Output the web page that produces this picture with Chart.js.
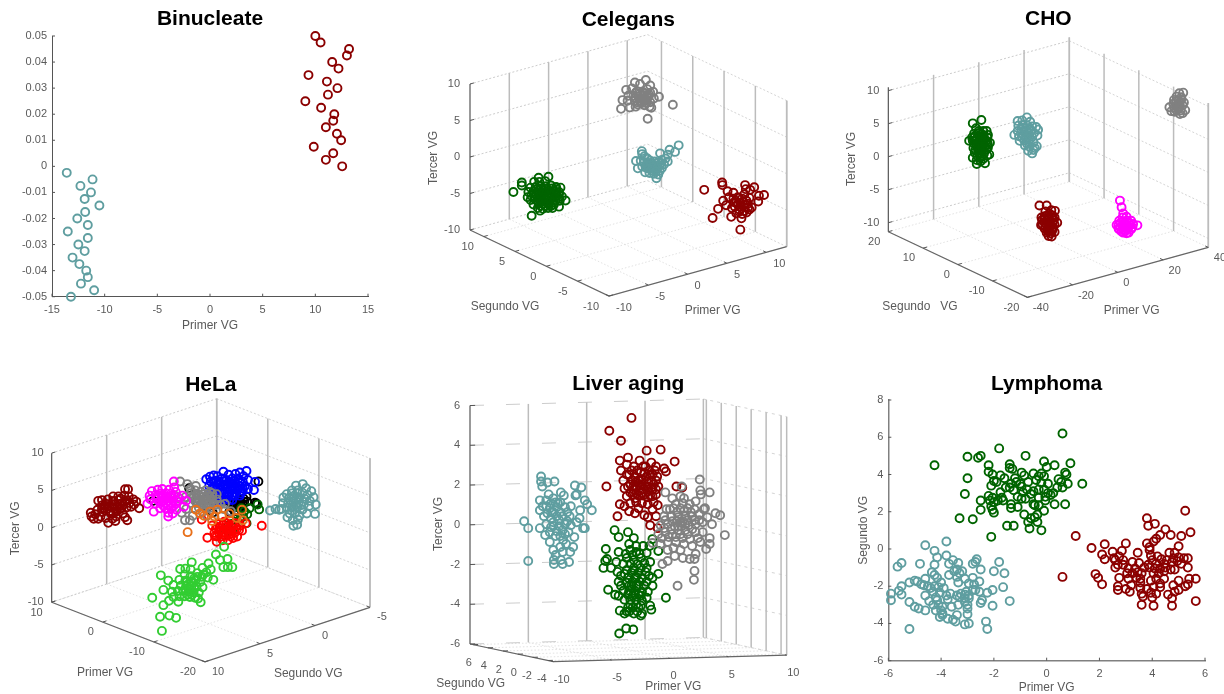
<!DOCTYPE html>
<html>
<head>
<meta charset="utf-8">
<title>Agrupamientos VG</title>
<script src="https://cdn.jsdelivr.net/npm/chart.js@4"></script>
<style>
html, body { margin: 0; padding: 0; background: #fff; }
#page { position: relative; width: 1224px; height: 694px; overflow: hidden; background: #fff; }
canvas { position: absolute; }
</style>
</head>
<body>
<div id="page"></div>
<script>
// colours of the clusters
const TEAL = '#5f9ea0', MAROON = '#8b0000', GRAY = '#808080', DGREEN = '#006400', MAGENTA = '#ff00ff';
const BLUE = '#0000ff', BLACK = '#000000', RED = '#ff0000', ORANGE = '#e8701a', LIME = '#32cd32';

// ---- Binucleate (Primer VG, Segundo VG)
const binTeal = [[-13.6,-0.0025],[-11.15,-0.005],[-12.3,-0.0075],[-11.3,-0.01],[-11.9,-0.0125],[-10.5,-0.015],[-11.85,-0.0175],[-12.6,-0.02],[-11.6,-0.0225],[-13.5,-0.025],[-11.6,-0.0275],[-12.5,-0.03],[-11.9,-0.0325],[-13.05,-0.035],[-12.4,-0.0375],[-11.75,-0.04],[-11.6,-0.0425],[-12.25,-0.045],[-11.0,-0.0475],[-13.2,-0.05]];
const binRed = [[10.0,0.05],[10.5,0.0475],[13.2,0.045],[13.0,0.0425],[11.6,0.04],[12.2,0.0375],[9.35,0.035],[11.1,0.0325],[12.1,0.03],[11.2,0.0275],[9.05,0.025],[10.55,0.0225],[11.8,0.02],[11.7,0.0175],[11.0,0.015],[12.05,0.0125],[12.45,0.01],[9.85,0.0075],[11.7,0.005],[11.0,0.0025],[12.55,0]];
const binXTicks = [-15,-10,-5,0,5,10,15];
const binYTicks = [-0.05,-0.04,-0.03,-0.02,-0.01,0,0.01,0.02,0.03,0.04,0.05];

// ---- Lymphoma (Primer VG, Segundo VG)
const lymGreen = [[0.6,6.2],[-1.8,5.4],[-0.8,5.0],[-3.0,4.95],[-2.6,4.9],[-2.5,5.0],[-4.25,4.5],[-0.1,4.7],[0.3,4.5],[0.9,4.6],[0,4.4],[-2.2,4.5],[-1.4,4.55],[-1.4,4.35],[-1.3,4.3],[-2.2,4.15],[-2.05,4.0],[-1.75,3.95],[-3.0,3.8],[-1.6,3.8],[-2,3.65],[-1.2,3.8],[-0.95,4.1],[-0.85,3.95],[-0.5,4.05],[-0.3,3.9],[-0.2,4.05],[-0.1,3.9],[0.7,4.1],[0.75,4.0],[0.45,3.75],[0.55,3.6],[0.8,3.5],[1.35,3.5],[0.6,3.3],[0.4,3.3],[0.05,3.5],[-0.2,3.55],[-0.4,3.7],[-0.7,3.6],[-1,3.5],[-1.15,3.6],[-1.35,3.5],[-1.4,3.3],[-1.25,3.15],[-1.55,3.3],[-2.1,3.4],[-1.9,3.6],[-0.95,3.35],[-0.75,3.2],[-0.5,3.1],[-0.3,3.2],[-0.1,3.2],[0.05,3.0],[0.25,3.0],[0.15,2.9],[-0.05,2.8],[-0.3,2.75],[-0.6,2.95],[-0.9,3.05],[-1.1,2.8],[-0.95,2.7],[-0.8,2.7],[-1.7,2.75],[-1.65,2.6],[-1.85,2.6],[-2.05,2.75],[-2.2,2.85],[-2.15,2.6],[-2,2.5],[-2.5,2.6],[-3.1,2.95],[-1.75,3.05],[-1.35,2.4],[-1.35,2.2],[-1.1,2.25],[-2.1,2.3],[-2.05,2.1],[-2,1.95],[-2.5,2.1],[0.7,2.4],[0.3,2.4],[-0.05,2.6],[-0.5,2.4],[-0.45,2.35],[-0.3,2.35],[-0.85,1.85],[-0.1,2.05],[-0.35,1.85],[-0.45,1.7],[-0.6,1.65],[-0.35,1.45],[-0.7,1.45],[-3.3,1.65],[-2.8,1.6],[-1.5,1.25],[-1.25,1.25],[-0.65,1.1],[-0.2,1.0],[-2.1,0.65]];
const lymTeal = [[-3.8,0.4],[-4.6,0.2],[-4.25,-0.1],[-3.8,-0.35],[-4.15,-0.45],[-3.55,-0.6],[-2.65,-0.55],[-2.7,-0.7],[-2.8,-0.8],[-1.8,-0.7],[-5.5,-0.75],[-5.65,-0.95],[-4.8,-0.8],[-4.25,-0.85],[-3.7,-0.8],[-3.35,-0.75],[-2.5,-1.1],[-2,-1.2],[-1.6,-1.3],[-3.4,-1.1],[-3.5,-1.2],[-3.3,-1.3],[-3.2,-1.2],[-3.7,-1.4],[-3.4,-1.5],[-4.35,-1.25],[-4.25,-1.4],[-4.15,-1.55],[-2.8,-1.55],[-3.1,-1.6],[-2.55,-1.75],[-3.35,-1.8],[-2.75,-1.9],[-2.95,-1.85],[-4.6,-1.6],[-4,-1.8],[-5.2,-1.8],[-5,-1.7],[-4.9,-1.75],[-4.75,-1.9],[-4.65,-1.95],[-5.5,-2.0],[-4.5,-2],[-4.4,-2.1],[-4.25,-2],[-4.1,-2.05],[-3.9,-2.1],[-1.65,-2.05],[-2.05,-2.2],[-2.25,-2.35],[-2.55,-2.3],[-2.8,-2.2],[-2.7,-2.2],[-5.6,-2.25],[-5.5,-2.45],[-5.9,-2.4],[-5.9,-2.75],[-4.6,-2.5],[-4.3,-2.3],[-4.05,-2.35],[-3.8,-2.5],[-3.65,-2.4],[-3.4,-2.5],[-3.25,-2.4],[-3.1,-2.45],[-3.05,-2.3],[-2.95,-2.5],[-3.3,-2.6],[-3.1,-2.65],[-2.95,-2.65],[-3.75,-2.7],[-4.2,-2.6],[-4.15,-2.75],[-4.45,-2.8],[-2.45,-2.75],[-2.5,-2.9],[-1.4,-2.8],[-5.2,-2.85],[-5,-3.1],[-4.85,-3.2],[-4.6,-3.3],[-4.3,-3],[-4.1,-3.0],[-3.95,-3.1],[-3.6,-3.1],[-3.35,-3],[-3.1,-2.85],[-3,-3.0],[-3,-3.2],[-2.05,-3.05],[-4.2,-3.3],[-4,-3.3],[-3.95,-3.45],[-3.95,-3.55],[-4.05,-3.65],[-3,-3.5],[-3.4,-3.55],[-3.75,-3.75],[-3.55,-3.8],[-3.45,-3.9],[-2.95,-4],[-3.1,-4.05],[-2.3,-3.9],[-2.25,-4.3],[-5.2,-4.3]];
const lymRed = [[5.25,2.05],[3.8,1.65],[4.1,1.35],[3.85,1.25],[4.5,1.05],[5.45,0.9],[4.3,0.75],[4.7,0.75],[5.1,0.7],[4.15,0.55],[1.1,0.7],[3.0,0.3],[2.2,0.25],[3.8,0.3],[4.05,0.4],[1.7,0.05],[5,0.15],[3.9,0.1],[2.85,-0.1],[3.9,-0.05],[2.5,-0.15],[3.45,-0.2],[2.1,-0.3],[4.65,-0.2],[4.85,-0.2],[3.95,-0.35],[4.2,-0.4],[2.75,-0.4],[2.2,-0.55],[2.55,-0.5],[2.6,-0.6],[2.9,-0.6],[4.0,-0.6],[4.35,-0.55],[4.55,-0.6],[4.8,-0.5],[5,-0.45],[5.2,-0.5],[5.35,-0.5],[3.25,-0.7],[3.5,-0.75],[2.7,-0.85],[2.9,-0.85],[3.85,-0.85],[4.15,-0.8],[4.45,-0.8],[4.75,-0.7],[4.95,-0.65],[5.1,-0.8],[2.6,-1],[5.35,-1],[3.1,-1.05],[3.35,-1.05],[3.7,-1],[3.9,-1],[4.1,-1.05],[4.3,-1.05],[4.5,-1],[4.7,-1.1],[4.85,-1.1],[3.05,-1.3],[3.25,-1.3],[3.45,-1.25],[3.6,-1.3],[4.05,-1.3],[4.25,-1.3],[4.45,-1.2],[1.85,-1.35],[3.1,-1.6],[3.4,-1.55],[3.55,-1.6],[1.95,-1.55],[0.6,-1.5],[2.75,-1.55],[4.45,-1.6],[3.95,-1.7],[4.15,-1.6],[5,-1.7],[5.4,-1.6],[5.65,-1.6],[3.55,-1.8],[4.3,-1.85],[2.1,-1.9],[3.2,-1.95],[4.8,-1.95],[5.35,-1.9],[5.25,-2],[2.7,-2],[2.7,-2.2],[3,-2.15],[3.55,-2.1],[3.8,-2.15],[4.05,-2.05],[4.3,-2.05],[5,-2.2],[3.15,-2.3],[3.6,-2.4],[3.95,-2.35],[4.15,-2.4],[4.6,-2.45],[4.85,-2.3],[3.65,-2.55],[4.0,-2.6],[4.75,-2.65],[5.65,-2.8],[3.6,-3],[4.05,-3.05],[4.75,-3.05]];
const lymXTicks = [-6,-4,-2,0,2,4,6];
const lymYTicks = [-6,-4,-2,0,2,4,6,8];

// ---- 3D panels: the values are read off the picture as they appear in the view,
// [horizontal position in the view, height in the view], vertical in Tercer VG units.
const celGray = [[-1,6.6],[2.65,5.25],[6.1,7.15],[4.2,8.25],[-0.8,7.8],[2.4,10.55],[0.9,10.2],[-0.3,9.2],[0.2,6.8],[1,6.9],[3.15,6.75],[3.4,8.95],[1.6,10],[3,9.8],[2.6,9.3],[0.5,9.4],[1.2,9],[2,8.9],[3,8.8],[0,8.4],[0.7,8.4],[1.4,8.3],[2.1,8.4],[2.8,8.3],[3.5,8],[-0.1,7.7],[0.9,7.7],[1.6,7.7],[2.3,7.8],[3,7.5],[1.3,7.2],[2.2,7.1],[2.9,6.9],[1.8,8.1],[1.9,7.4],[1,8.8],[1.6,8.7],[2.2,8.7],[2.8,8.6],[0.9,8.1],[1.5,8],[2.1,8],[2.6,8.1],[1.2,7.5],[1.7,7.5],[2.5,7.4]];
const celTeal = [[6.9,1.6],[6.4,0.7],[5.65,1],[4.35,0.5],[1.85,0.8],[1.05,-0.55],[1.3,-1.55],[3.85,-2.9],[1.9,0.4],[2.2,0.1],[2.6,-0.2],[3,-0.5],[5.4,0.3],[5.1,-0.2],[5.4,-0.6],[4.6,-0.4],[4.9,-1],[4.1,-0.7],[3.6,-0.6],[1.7,-0.5],[2.2,-0.7],[2.8,-1],[3.4,-1.1],[4,-1.2],[4.6,-1.5],[1.9,-1.3],[2.5,-1.5],[3.1,-1.6],[3.7,-1.7],[4.3,-1.9],[2.3,-2.1],[2.9,-2.2],[3.5,-2.3],[4.1,-2.4],[3.1,-1.2],[3.6,-1.2],[2.6,-0.8],[2.5,-1.1],[3,-0.8],[3.3,-1.4],[3.9,-0.9],[4.3,-1.2],[2.8,-1.6],[3.4,-1.9],[4,-1.5],[4.5,-0.8],[3.8,-2]];
const celGreen = [[-15.75,-4.8],[-14.6,-3.5],[-14.6,-3.9],[-13.25,-8.05],[-10.95,-2.7],[-12.3,-2.85],[-8.6,-5.95],[-9.5,-6.8],[-12.1,-7.35],[-13.8,-5.5],[-12.9,-3.4],[-12.2,-3.4],[-11.4,-3.3],[-13.4,-4.2],[-12.7,-4.1],[-12,-4],[-11.3,-4],[-10.6,-3.9],[-9.9,-4.1],[-9.3,-4.2],[-13.7,-4.8],[-13,-4.7],[-12.3,-4.6],[-11.6,-4.6],[-10.9,-4.6],[-10.2,-4.7],[-9.5,-4.8],[-13.3,-5.3],[-12.6,-5.2],[-11.9,-5.2],[-11.2,-5.2],[-10.5,-5.3],[-9.8,-5.3],[-9.1,-5.4],[-13.4,-5.9],[-12.8,-5.8],[-12.1,-5.8],[-11.4,-5.8],[-10.7,-5.9],[-10,-5.9],[-9.4,-6],[-13,-6.5],[-12.3,-6.4],[-11.6,-6.4],[-10.9,-6.5],[-10.2,-6.5],[-12.4,-7],[-11.7,-7.1],[-11,-7],[-10.4,-7],[-12.6,-4.4],[-11.9,-4.3],[-11.2,-4.3],[-10.5,-4.3],[-9.9,-4.4],[-13,-5],[-12.3,-4.9],[-11.6,-4.9],[-10.9,-4.9],[-10.2,-5],[-9.5,-5.1],[-12.9,-5.5],[-12.2,-5.5],[-11.5,-5.5],[-10.8,-5.6],[-10.1,-5.6],[-9.5,-5.7],[-12.4,-6.1],[-11.7,-6.1],[-11,-6.2],[-10.3,-6.2],[-12,-6.7],[-11.3,-6.7],[-10.6,-6.7]];
const celRed = [[10.4,-4.5],[12.85,-3.5],[12.9,-3.85],[18.6,-5.2],[17.25,-4.15],[16,-3.85],[16.7,-4.5],[11.55,-8.35],[15.35,-9.95],[14.1,-8.2],[12.3,-7.1],[17.8,-6.1],[17.9,-5.3],[13,-6],[13.8,-5.5],[14.4,-4.9],[13.6,-4.7],[14.5,-6.2],[15.2,-5.6],[15.9,-5.1],[16.6,-5.6],[13.4,-6.6],[14.2,-7],[15,-6.5],[15.7,-6.1],[16.4,-6.4],[15.2,-7.2],[15.9,-6.9],[16.6,-7.2],[15.6,-7.8],[16.2,-7.6],[15.5,-8.4],[14.8,-7.7],[16.9,-6.9],[16.1,-4.4],[14.4,-5.7],[15,-5.5],[15.6,-5.7],[16.2,-6],[14.8,-6.2],[15.4,-6.3],[16,-6.5],[14.6,-6.8],[15.3,-6.8],[15.9,-7.4],[15.2,-7.5],[16.4,-6.9]];

const choGreen = [[-9.9,5.55],[-11.2,5.05],[-10.7,4.3],[-11.75,2.4],[-8.7,0.35],[-9.35,-1],[-10.6,-1.1],[-11.2,-0.15],[-9.6,3.9],[-9.1,3.9],[-11,3.5],[-10.3,3.6],[-9.6,3.2],[-8.9,3.3],[-11.3,2.9],[-10.6,2.8],[-9.9,2.6],[-9.2,2.5],[-11,2],[-10.3,2],[-9.6,1.9],[-8.9,1.8],[-8.6,2.1],[-11.1,1.3],[-10.5,1.3],[-9.8,1.2],[-9.1,1.1],[-10.9,0.6],[-10.2,0.6],[-9.5,0.5],[-9,0.2],[-10.1,-0.2],[-10,-0.7],[-9.6,-0.3],[-10.6,-0.5],[-11,2.9],[-10.9,3.1],[-10.2,3.1],[-9.6,2.9],[-9,2.9],[-10.8,2.4],[-10.2,2.4],[-9.6,2.4],[-9,2.2],[-10.6,1.7],[-10,1.6],[-9.4,1.6],[-8.9,1.4],[-10.8,1],[-10.1,0.9],[-9.5,0.9],[-10.5,0.1],[-9.9,0.2],[-10.3,3.9],[-9.8,3.4],[-11.2,2.4],[-10.4,1.3],[-9.7,1.2]];
const choTeal = [[-3,5.95],[-2.2,0.5],[-4.9,3.3],[-1.4,3.2],[-1.5,1.6],[-4.4,5.4],[-3.7,5.5],[-2.5,5.3],[-4.3,4.7],[-3.6,4.8],[-2.9,4.7],[-2.2,4.6],[-1.6,4.5],[-1.3,4.1],[-4.4,3.9],[-3.8,4.1],[-3.1,4],[-2.4,3.9],[-1.9,3.6],[-4.2,3.1],[-3.5,3.3],[-2.8,3.2],[-2.2,3],[-4.1,2.4],[-3.4,2.5],[-2.7,2.3],[-2,2.2],[-3.3,1.7],[-2.6,1.5],[-1.8,1.3],[-2.8,0.9],[-2,1],[-3.4,3.7],[-2.8,3.6],[-3.7,2.9],[-3.1,2.8],[-2.5,2.7],[-3.6,4.4],[-2.6,4.3],[-3,2]];
const choGray = [[20.7,9.7],[20.1,9.6],[18.6,7.5],[21,7.05],[20.2,6.45],[19.7,9.1],[20.4,9],[19.3,8.6],[20,8.5],[20.8,8.2],[19.2,8],[19.9,7.9],[20.6,7.8],[19.3,7.4],[20,7.3],[19.4,6.8],[20.6,6.6],[18.9,6.9],[19.6,8.4],[20.2,8.2],[19.6,7.7],[20.2,7.6],[19.7,7],[20.3,7],[20.4,8.7]];
const choRed = [[-1.1,-7.4],[0,-7.4],[1.25,-8.2],[0.75,-12.1],[-0.85,-10.35],[0.7,-8.1],[-0.2,-8.3],[0.4,-8.6],[-0.3,-9],[0.3,-9.2],[0.9,-8.9],[-0.7,-9.6],[-0.1,-9.7],[0.5,-9.8],[1.1,-9.6],[-0.6,-10.3],[0,-10.3],[0.6,-10.4],[1.2,-10.3],[-0.3,-10.9],[0.3,-11],[0.9,-11],[0,-11.5],[0.6,-11.6],[1.2,-11.4],[0.3,-12],[-0.4,-9.4],[0.2,-9.5],[0.8,-9.3],[-0.3,-10],[0.3,-10],[0.9,-9.9],[-0.2,-10.6],[0.4,-10.7],[1,-10.7],[0.2,-11.3],[0.8,-11.3],[0.1,-8.9],[1.2,-9.2],[-0.8,-9.2],[1.6,-10]];
const choMagenta = [[11.1,-6.65],[11.35,-7.65],[11.6,-8.6],[13.75,-10.4],[10.6,-10.35],[12.1,-11.6],[11.5,-9.2],[12.1,-9.1],[11,-9.7],[11.6,-9.8],[12.2,-9.7],[12.8,-9.7],[10.9,-10.4],[11.5,-10.4],[12.1,-10.4],[12.7,-10.4],[13.1,-10.2],[11,-11],[11.6,-11],[12.2,-11],[12.8,-11],[11.6,-11.5],[12.4,-11.5],[11.2,-10],[11.9,-10],[12.5,-10],[11.2,-10.7],[11.8,-10.7],[12.4,-10.7],[11.9,-11.3],[11.3,-11.3],[13,-10.7],[10.9,-10.9]];

const helMaroon = [[-15.9,1.5],[-9.5,2.6],[-11.4,5.15],[-11,5.15],[-13.65,0.65],[-16,2],[-15.4,1.8],[-15.6,1.2],[-15,1.2],[-15.1,2.4],[-14.4,2.1],[-14.7,1.5],[-14,1.3],[-15,3.6],[-14.5,3.7],[-14.5,3],[-13.9,3.2],[-13.8,2.5],[-13.2,2.8],[-13.3,1.9],[-13.1,1.2],[-12.6,1.5],[-13.7,3.8],[-13,4.2],[-12.9,3.5],[-12.3,3.7],[-12.4,2.9],[-12.5,2.2],[-11.9,2.6],[-11.7,1.9],[-11.4,1.4],[-11.1,1],[-12,3.9],[-11.4,3.5],[-11.5,4.3],[-10.9,4.2],[-10.8,3.3],[-10.3,3.8],[-10.2,3.1],[-10.6,2.8],[-9.9,3.5],[-14.2,2.6],[-12.7,0.9],[-14.5,2.5],[-13.5,2.9],[-13.5,2.2],[-12.8,3.1],[-12.8,2.5],[-12.1,3.2],[-12.1,2.5],[-13,1.9],[-13,3.6],[-12.3,4.2],[-11.6,3.1],[-11.2,2.7],[-14,2.9],[-11.1,3.7]];
const helMagenta = [[-7.55,2.15],[-5.6,1.5],[-4.85,6.2],[-8.4,3.2],[-5,1.9],[-7.8,4.9],[-7,5.1],[-6.4,5.2],[-5.5,5.1],[-4.8,5.4],[-8.1,4.3],[-7.3,4.4],[-6.6,4.6],[-5.9,4.6],[-5.2,4.6],[-4.6,4.8],[-8,3.8],[-7.1,3.8],[-6.4,4],[-5.7,3.9],[-5,4],[-4.3,4.1],[-3.7,4.3],[-7.3,3.2],[-6.6,3.3],[-5.9,3.3],[-5.2,3.3],[-4.6,3.2],[-6.7,2.6],[-6,2.6],[-5.2,2.6],[-4.5,2.4],[-3.5,2.8],[-3.2,3.6],[-5.6,2],[-7,4.1],[-6.4,4.4],[-5.8,4.2],[-5.2,4.3],[-6.8,3.5],[-6.2,3.6],[-5.6,3.6],[-5,3.6],[-4.4,3.6],[-6.3,3],[-5.6,3],[-4.9,2.9]];
const helGray = [[-3.35,1],[-2.7,1],[-4,6.2],[-3.05,5.85],[-4.7,4.3],[-4.1,3.9],[-2.3,1.6],[-3.2,2.5],[-2.6,5.2],[-2,5],[-1.9,5.6],[-2.6,4.6],[-1.8,4.4],[-1.2,4.8],[-0.6,5],[0,4.8],[-3.3,4.1],[-2.4,3.9],[-1.6,3.9],[-1,4.1],[-0.4,4.2],[0.3,4.2],[0.9,4.5],[-2.6,3.3],[-1.8,3.3],[-1.1,3.4],[-0.5,3.6],[0.2,3.5],[0.9,3.8],[-1.5,2.7],[-0.8,2.8],[-0.1,3],[0.6,3],[1.4,3.1],[2,3.2],[2.8,2.2],[1.8,2.5],[-1,2.1],[-0.4,1.6],[-3.8,2],[-1.5,4.4],[-0.9,4.5],[-0.3,4.5],[0.3,4.6],[-2,3.6],[-1.4,3.6],[-0.8,3.7],[-0.2,3.8],[0.5,3.3],[-1.2,3.1],[-0.5,3.2],[0.1,2.7],[-2.2,4.2]];
const helOrange = [[-3,-0.6],[-1.35,1.9],[0,2.15],[1,2.4],[-0.8,1.6],[-1.9,2.4],[0.6,1.5],[1.6,1.6],[2.6,1.9],[4.3,2.4],[3.6,1.3],[4.4,1],[0.3,0.9]];
const helRed = [[6.95,0.25],[-0.35,-1.35],[3.65,-1.2],[-1.1,1.1],[0.9,-1.9],[0.3,0.3],[4.8,0.6],[1.2,0.5],[1.9,0.8],[2.6,1],[3.4,0.6],[4.1,0.3],[0.8,-0.1],[1.5,-0.1],[2.2,0.1],[2.9,0],[3.6,-0.2],[4.3,-0.4],[0.6,-0.7],[1.2,-0.7],[1.9,-0.6],[2.6,-0.6],[3.3,-0.7],[0.9,-1.2],[1.5,-1.2],[2.1,-1.1],[2.8,-1.2],[1.7,-1.7],[2.4,-1.7],[3.1,-1.4],[1,0.1],[1.7,0.4],[1.3,-0.4],[1.6,-0.9],[2.3,-0.2],[2.6,-0.9],[3,0.4],[3.2,-0.4],[3.9,-0.3],[0.7,-1.1],[2.2,0.6]];
const helBlue = [[4.9,7.6],[0,6.85],[1.8,7.5],[6.05,6.15],[5.9,5.05],[0.65,3.6],[-0.2,4.6],[-0.5,6.5],[0.5,7],[1,6.9],[2.5,7.1],[3.4,7.2],[4,7.4],[4.5,6.9],[5.1,6.4],[0.1,6.2],[0.8,6.3],[1.6,6.6],[2.2,6.4],[3,6.6],[3.8,6.6],[4.4,6.2],[-0.1,5.6],[0.6,5.6],[1.3,5.8],[2,5.8],[2.7,5.9],[3.4,5.9],[4,5.6],[4.7,5.6],[5.1,5.2],[0.1,4.9],[0.9,5],[1.6,5.1],[2.3,5.2],[3,5.1],[3.7,5],[4.4,4.9],[0.4,4.2],[1.2,4.3],[1.9,4.5],[2.6,4.5],[3.3,4.3],[4,4.3],[1.4,3.7],[2.2,3.8],[3,3.7],[0.5,6.2],[1.2,6.2],[1.9,6.2],[2.6,6.2],[3.3,6.3],[4,6.1],[0.3,5.3],[1,5.4],[1.7,5.5],[2.4,5.5],[3.1,5.5],[3.8,5.3],[4.4,5.3],[0.6,4.6],[1.3,4.7],[2,4.8],[2.7,4.9],[3.4,4.7],[4.1,4.6],[1.6,4.1],[2.3,4.2],[3,4.3],[2.6,3.7]];
const helGreen = [[6.6,2.45],[6.4,3.1],[2.45,0.25],[1.9,-1],[4.45,1.5],[4.9,0.6],[3.5,0.1],[2.9,0.5],[4,1.1],[4.6,2.2],[3.6,1.8],[5.3,2.6],[4.2,2.6],[5,1.8],[2.4,-0.4]];
const helBlack = [[6.5,6.2],[-2.8,5.3],[-7.6,3.6],[-1.8,3.5],[-0.35,2.8],[0.35,2],[6.05,3.35],[6.25,3.25],[4.9,4.15],[2,3.6],[3,2.6],[3.4,3.2],[3.9,3.7],[4.4,3.1],[3.5,2.3],[4,2.6],[2.9,3.1],[5,3.5],[4.5,3.9],[2.6,2.1],[3.8,3.1],[3.1,3.3],[3.6,3.5],[4.1,3.3],[4.6,3.5],[3.2,2.8],[3.7,2.8],[4.2,2.9],[3.3,2.2]];
const helTeal = [[14.1,1.85],[8.05,2.3],[8.8,2.5],[9.3,2.4],[11.2,0.25],[11.7,0.4],[12.45,5.85],[11.55,5.65],[9.85,4.05],[12.9,5.3],[13.6,4.9],[13.9,4.1],[14.2,3.1],[11,5],[11.8,5],[12.4,4.7],[13.1,4.4],[10.3,4.5],[10.6,4],[11.3,4.3],[12,4.1],[12.7,3.9],[13.4,3.6],[9.8,3.3],[10.5,3.3],[11.2,3.5],[11.9,3.4],[12.6,3.1],[13.3,2.9],[9.6,2.5],[10.3,2.7],[11,2.7],[11.7,2.7],[12.4,2.4],[13,1.9],[10.7,1.9],[11.4,1.9],[12,1.6],[11.1,1],[11.8,1.1],[10.4,1.4],[11,4.6],[11.7,4.6],[11.2,3.9],[11.9,3.8],[12.5,3.5],[10.8,3.1],[11.5,3.1],[12.2,3],[11,2.3]];
const helLime = [[1.9,-2.55],[0.8,-3.6],[1.35,-4.35],[2.35,-4.2],[3,-5.3],[1.8,-5.3],[2.4,-5.3],[-6.6,-6.4],[-5.6,-7.1],[-6.25,-8.35],[-7.75,-9.4],[-6.25,-10.4],[-6.7,-11.95],[-5.45,-11.8],[-4.55,-12.1],[-6.45,-13.85],[-4.25,-9.95],[-1.25,-10],[-2.45,-4.65],[-4,-5.55],[0.45,-7],[-0.2,-4.8],[0.1,-5.6],[-3.3,-5.5],[-2.6,-5.6],[-1,-5.4],[-0.5,-6],[-1.7,-6.1],[-3.4,-6.3],[-2.6,-6.5],[-1.1,-6.6],[-0.3,-6.7],[-4.1,-7],[-3.3,-7.1],[-2.6,-7.2],[-1.9,-7],[-1.3,-7.3],[-4.9,-7.7],[-3.9,-7.8],[-3.2,-7.8],[-2.5,-7.9],[-1.8,-7.9],[-1,-8],[-5.1,-8.6],[-4.3,-8.5],[-3.6,-8.5],[-2.9,-8.6],[-2.2,-8.7],[-1.5,-8.7],[-4.9,-9.3],[-4.1,-9.2],[-3.4,-9.2],[-2.7,-9.3],[-2,-9.4],[-5.5,-9.8],[-1.6,-9.5],[-3.2,-7.3],[-2.9,-7.6],[-2.2,-7.4],[-2.8,-8.2],[-2.1,-8.2],[-3.3,-8.3],[-3,-9],[-2.4,-9],[-1.7,-6.6],[-0.9,-6.3],[-2.1,-6.8]];

const livTeal = [[-11.05,2.4],[-11.05,2.15],[-10.95,1.9],[-9.9,2.15],[-10.5,2.1],[-8.15,1.95],[-7.6,1.85],[-8,1.5],[-8.1,1.45],[-7.3,1.2],[-7.1,1],[-6.7,0.7],[-7.7,0.7],[-12.5,0.15],[-12.15,-0.2],[-12.15,-1.85],[-11.15,1.2],[-10.4,1.5],[-9.35,1.6],[-9.1,1.45],[-11.15,0.7],[-7.75,0.3],[-7.3,-0.2],[-7.45,-0.2],[-11.15,-0.2],[-10.7,-0.55],[-10.3,-0.9],[-8.2,-0.65],[-9.15,-0.8],[-8.3,-1.15],[-9.4,-1.15],[-8.55,-1.4],[-9.8,-1.55],[-9.95,-1.8],[-9.95,-2],[-9.2,-2],[-8.65,-1.9],[-9.35,-1.8],[-10.6,1.2],[-10,1.3],[-9.4,1.1],[-10.9,0.9],[-10.3,0.8],[-9.7,0.85],[-9,0.85],[-8.5,0.9],[-10.8,0.4],[-10.2,0.3],[-9.7,0.4],[-9.2,0.4],[-8.6,0.4],[-8,0.1],[-10.6,0],[-10,-0.1],[-9.5,-0.1],[-9,0],[-8.5,-0.05],[-10.3,-0.4],[-9.7,-0.35],[-9.2,-0.3],[-8.7,-0.4],[-10.1,0.6],[-9.4,0.6],[-9.8,1.1],[-8.9,-1],[-10,-1.3],[-9.2,-1.4],[-10.5,0.55],[-10,0.6],[-9.5,0.2],[-10,0.1],[-9.8,-0.6],[-10.2,-0.15],[-9.4,-0.6],[-9.6,1.05],[-10.2,1.05],[-8.8,0.15],[-8.8,0.6],[-9,-0.5],[-10.6,0.9]];
const livGray = [[2.55,2.25],[2.6,1.7],[2.65,1.5],[3.4,1.6],[-0.4,1.6],[1,1.9],[0.9,1.4],[1.2,1.3],[0.2,1.3],[2.2,1.15],[3,0.8],[2.9,0.75],[3.9,0.55],[4.3,0.45],[3.2,0.35],[3.6,0],[4.7,-0.55],[3.4,-0.7],[3.4,-1],[3.1,-1.25],[2.2,-1.5],[2.1,-1.75],[2.1,-2.35],[2.05,-2.8],[0.65,-3.1],[-0.65,-2],[-0.2,-1.85],[0.4,-1.6],[1.1,-1.7],[1.7,-1.75],[-1.5,-0.95],[-0.8,-1],[-0.2,-0.9],[0.5,-0.9],[1.2,-1],[1.9,-1.1],[2.6,-0.9],[-1,-0.5],[-0.4,-0.4],[0.2,-0.5],[0.9,-0.5],[1.5,-0.5],[2.2,-0.4],[2.8,-0.4],[-0.8,-0.05],[-0.2,0],[0.4,-0.1],[1,-0.1],[1.6,-0.05],[2.2,0],[2.8,0.1],[-0.5,0.4],[0.1,0.4],[0.7,0.35],[1.3,0.4],[1.9,0.4],[2.5,0.5],[-0.3,0.75],[0.3,0.8],[0.9,0.8],[1.5,0.8],[2.1,0.75],[0.5,1],[1.1,1.05],[1.7,1],[0.6,0.15],[1.1,0.15],[1.3,-0.3],[0.7,-0.3],[0,0.75],[0.6,0.6],[1.2,0.65],[1.8,0.6],[-0.4,0.2],[0.2,0.15],[0.9,0.1],[1.5,0.2],[2.1,0.2],[-0.5,-0.2],[0.1,-0.25],[0.7,-0.1],[1.3,0],[1.9,-0.25],[-0.7,-0.7],[-0.1,-0.65],[0.5,-0.65],[1.1,-0.7],[1.7,-0.75],[0.3,-1.2],[0.9,-1.3],[-0.2,-1.3],[2.4,-0.7],[2.5,0.2]];
const livRed = [[-3.3,5.35],[-5.2,4.7],[-4.2,4.2],[-2,3.7],[-0.8,3.75],[0.4,3.15],[-3.6,3.35],[-4.3,3.2],[-5.45,1.9],[-4.5,0.4],[-1.05,-0.2],[-1.7,-0.05],[0.55,1.9],[1.05,1.85],[-0.5,2.8],[-0.35,2.65],[-4.3,1],[-3.9,0.9],[-3.5,0.65],[-3,0.55],[-2.7,0.8],[-2.2,0.45],[-1.9,0.35],[-1.5,0.75],[-1.2,0.4],[-1.05,0.95],[-4.2,2.7],[-3.7,3],[-3.1,2.9],[-2.6,3.2],[-2.1,2.9],[-1.6,3.1],[-1.2,2.9],[-4,2.2],[-3.5,2.5],[-3,2.4],[-2.5,2.6],[-2,2.4],[-1.5,2.5],[-1.1,2.4],[-3.9,1.8],[-3.4,2],[-2.9,1.9],[-2.4,2],[-1.9,1.9],[-1.4,2],[-1,1.9],[-3.7,1.4],[-3.2,1.5],[-2.7,1.45],[-2.2,1.5],[-1.7,1.45],[-1.2,1.5],[-3.4,1.05],[-2.9,1.1],[-2.4,1.05],[-1.9,1],[-1.4,1.1],[-2.4,2.25],[-2,2.15],[-1.6,2.2],[-2.7,2.2],[-2.3,1.75],[-1.9,1.65],[-3.1,1.75],[-1.5,1.75],[-2.6,1.7],[-3.3,2.7],[-2.8,2.7],[-2.3,2.9],[-1.8,2.7],[-1.3,2.7],[-3.7,2.5],[-3.2,2.2],[-2.9,2.15],[-2.2,2.6],[-1.7,2.5],[-1.2,2.2],[-3.6,1.9],[-3.1,1.95],[-2.6,1.95],[-2.1,1.9],[-1.6,1.85],[-1.2,1.75],[-3.4,1.6],[-2.9,1.55],[-2.4,1.55],[-1.9,1.35],[-1.5,1.4],[-3,1.3]];
const livGreen = [[-4.75,-0.3],[-3.6,-0.4],[-4.4,-0.65],[-3.1,-0.7],[-1.5,-0.75],[-1.75,-1.1],[-1,-1.35],[-5.5,-1.25],[-5.05,-2.2],[-5.55,-1.85],[-5.7,-2.2],[-5.4,-1.75],[-1,-2.5],[-1.5,-2.7],[-0.35,-3.7],[-5.3,-3.3],[-4.7,-3.55],[-4.4,-3.6],[-1.7,-4.1],[-1.6,-4.3],[-4.3,-4.35],[-3.9,-4.5],[-2.5,-4.6],[-4.35,-5.5],[-3.75,-5.25],[-3.15,-5.3],[-3.5,-1],[-2.9,-1.1],[-2.3,-1.1],[-4.4,-1.4],[-3.8,-1.5],[-3.2,-1.55],[-2.6,-1.5],[-2,-1.45],[-4.6,-1.9],[-4,-2],[-3.4,-2],[-2.8,-2],[-2.2,-1.95],[-1.7,-1.9],[-4.5,-2.4],[-3.9,-2.5],[-3.3,-2.45],[-2.7,-2.45],[-2.1,-2.4],[-4.4,-2.9],[-3.7,-2.95],[-3.2,-2.9],[-2.6,-2.9],[-2,-2.9],[-1.5,-3.1],[-4,-3.35],[-3.5,-3.35],[-3,-3.35],[-2.4,-3.4],[-1.9,-3.4],[-3.9,-3.8],[-3.4,-3.8],[-2.9,-3.8],[-2.4,-3.85],[-3.6,-4.2],[-3.2,-4.2],[-2.7,-4.2],[-3.1,-4.5],[-2.9,-2.65],[-3.1,-2.2],[-2.9,-3.1],[-3.3,-3.1],[-2.7,-3.55],[-3.2,-3.6],[-3.7,-1.7],[-3.1,-1.8],[-2.5,-1.7],[-3.7,-2.3],[-3.1,-2.3],[-2.5,-2.2],[-2,-2.2],[-3.6,-2.7],[-3,-2.7],[-2.4,-2.7],[-1.8,-2.6],[-3.5,-3.1],[-2.7,-3.1],[-2.2,-3.1],[-3.6,-3.55],[-3,-3.55],[-2.5,-3.6],[-2,-3.7],[-3.4,-4.05],[-2.9,-4.05],[-2.5,-4.1],[-3.5,-4.4],[-2.8,-4.4],[-4.2,-2.6],[-4.2,-3.1],[-2.4,-4.5],[-3.7,-4.4],[-3.4,-1.3],[-2.9,-1.4]];

// tick labels of the 3D axes
const celSegTicks = [10,5,0,-5,-10], celPriTicks = [-10,-5,0,5,10], celTerTicks = [-10,-5,0,5,10];
const choSegTicks = [20,10,0,-10,-20], choPriTicks = [-40,-20,0,20,40], choTerTicks = [-10,-5,0,5,10];
const helPriTicks = [10,0,-10,-20], helSegTicks = [10,5,0,-5], helTerTicks = [-10,-5,0,5,10];
const livSegTicks = [6,4,2,0,-2,-4], livPriTicks = [-10,-5,0,5,10], livTerTicks = [-6,-4,-2,0,2,4,6];

Chart.defaults.font.family = '"Liberation Sans", Arial, sans-serif';
Chart.defaults.color = '#5a5a5a';

function scatterSet(points, colour) {
    return {
        data: points.map(p => ({ x: p[0], y: p[1] })),
        showLine: false,
        pointStyle: 'circle',
        pointRadius: 4,
        pointBorderWidth: 1.9,
        pointBackgroundColor: 'transparent',
        pointBorderColor: colour,
        clip: false
    };
}

function addCanvas(left, top, width, height) {
    const canvas = document.createElement('canvas');
    canvas.width = width;
    canvas.height = height;
    canvas.style.left = left + 'px';
    canvas.style.top = top + 'px';
    document.getElementById('page').appendChild(canvas);
    return canvas.getContext('2d');
}

function titleOptions(text, centreY, areaTop) {
    return {
        display: true,
        text: text,
        color: '#000',
        fullSize: false,
        font: { size: 21, weight: 'bold' },
        padding: { top: centreY - 12.6, bottom: areaTop - centreY - 12.6 }
    };
}

// short inner tick marks, the 2D axes have them on the inside
const innerTicks = {
    id: 'innerTicks',
    afterDatasetsDraw(chart) {
        const c = chart.ctx, x = chart.scales.x, y = chart.scales.y, a = chart.chartArea;
        c.save();
        c.strokeStyle = '#555';
        c.lineWidth = 1;
        c.beginPath();
        x.ticks.forEach(t => { const p = x.getPixelForValue(t.value); c.moveTo(p, a.bottom); c.lineTo(p, a.bottom - 3); });
        y.ticks.forEach(t => { const p = y.getPixelForValue(t.value); c.moveTo(a.left, p); c.lineTo(a.left + 3, p); });
        c.stroke();
        c.restore();
    }
};

function flatChart(o) {
    const area = o.area, canvasLeft = o.canvasLeft, canvasTop = o.top;
    const height = Math.ceil(area.bottom - canvasTop + o.bottomSpace);
    new Chart(addCanvas(canvasLeft, canvasTop, area.right + 14 - canvasLeft, height), {
        type: 'scatter',
        data: { datasets: o.sets.map(s => scatterSet(s[0], s[1])) },
        plugins: [innerTicks],
        options: {
            responsive: false,
            animation: false,
            events: [],
            layout: { autoPadding: false, padding: { left: 0, right: 14, top: 0, bottom: 0 } },
            plugins: { legend: { display: false }, tooltip: { enabled: false }, title: titleOptions(o.title, o.titleY - canvasTop, area.top - canvasTop) },
            scales: {
                x: {
                    type: 'linear', min: o.xTicks[0], max: o.xTicks[o.xTicks.length - 1],
                    afterFit: s => { s.height = height - (area.bottom - canvasTop); },
                    afterBuildTicks: s => { s.ticks = o.xTicks.map(v => ({ value: v })); },
                    grid: { display: false, drawTicks: false },
                    border: { color: o.axisColour, width: o.axisWidth },
                    ticks: { font: { size: 11 }, color: '#5a5a5a', padding: 7, autoSkip: false, maxRotation: 0, callback: v => String(v) },
                    title: { display: true, text: 'Primer VG', color: '#5a5a5a', font: { size: 12, lineHeight: 1 }, padding: { top: 0, bottom: o.xTitleGap } }
                },
                y: {
                    type: 'linear', min: o.yTicks[0], max: o.yTicks[o.yTicks.length - 1],
                    afterFit: s => { s.width = area.left - canvasLeft; },
                    afterBuildTicks: s => { s.ticks = o.yTicks.map(v => ({ value: v })); },
                    grid: { display: false, drawTicks: false },
                    border: { color: o.axisColour, width: o.axisWidth },
                    ticks: { font: { size: 11 }, color: '#5a5a5a', padding: 5, autoSkip: false, callback: v => String(v) },
                    title: { display: !!o.yTitle, text: o.yTitle, color: '#5a5a5a', font: { size: 12 }, padding: { top: 6, bottom: 0 } }
                }
            }
        }
    });
}

// position of (a, c, t) in view coordinates: the box is a parallel projection
function boxPoint(b, a, c, t) {
    const fa = (a - b.a0) / (b.a1 - b.a0);
    const fc = (c - b.c0) / (b.c1 - b.c0);
    const ft = (t - b.t0) / (b.t1 - b.t0);
    return {
        x: b.L[0] + fa * (b.B[0] - b.L[0]) + fc * (b.R[0] - b.B[0]),
        y: b.L[1] + fa * (b.B[1] - b.L[1]) + fc * (b.R[1] - b.B[1]) + ft * b.h
    };
}

function boxPlugin(o) {
    const b = o.box;
    return {
        id: 'box3d',
        beforeDatasetsDraw(chart) {
            const c = chart.ctx, sx = chart.scales.x, sy = chart.scales.y;
            const px = p => [sx.getPixelForValue(p.x), sy.getPixelForValue(p.y)];
            function path(pts, colour, width, dash) {
                c.beginPath();
                pts.forEach((p, i) => { const q = px(p); if (i) c.lineTo(q[0], q[1]); else c.moveTo(q[0], q[1]); });
                c.strokeStyle = colour;
                c.lineWidth = width;
                c.setLineDash(dash || []);
                c.stroke();
                c.setLineDash([]);
            }
            c.save();
            // floor
            o.cTicks.forEach(v => path([boxPoint(b, b.a0, v, b.t0), boxPoint(b, b.a1, v, b.t0)], '#dadada', 0.8, [1.5, 2]));
            o.aTicks.forEach(v => path([boxPoint(b, v, b.c0, b.t0), boxPoint(b, v, b.c1, b.t0)], '#dadada', 0.8, [1.5, 2]));
            // back walls
            o.tTicks.forEach(v => {
                path([boxPoint(b, b.a0, b.c0, v), boxPoint(b, b.a0, b.c1, v)], '#c6c6c6', 0.9, o.leftDash || [2, 2]);
                path([boxPoint(b, b.a0, b.c1, v), boxPoint(b, b.a1, b.c1, v)], '#cfcfcf', 0.9, o.rightDash || [2, 2]);
            });
            o.cTicks.filter(v => v !== b.c0).forEach(v => path([boxPoint(b, b.a0, v, b.t0), boxPoint(b, b.a0, v, b.t1)], '#bcbcbc', 1.5));
            o.aTicks.forEach(v => path([boxPoint(b, v, b.c1, b.t0), boxPoint(b, v, b.c1, b.t1)], '#bcbcbc', 1.5));
            path([boxPoint(b, b.a1, b.c1, b.t0), boxPoint(b, b.a1, b.c1, b.t1)], '#bcbcbc', 1.5);
            // axes
            path([boxPoint(b, b.a0, b.c0, b.t0), boxPoint(b, b.a0, b.c0, b.t1)], '#555', 1.2);
            path([boxPoint(b, b.a0, b.c0, b.t0), boxPoint(b, b.a1, b.c0, b.t0), boxPoint(b, b.a1, b.c1, b.t0)], '#666', 1.2);

            const da = (b.a1 - b.a0) * 0.022, dc = (b.c1 - b.c0) * 0.022;
            c.font = '11px ' + Chart.defaults.font.family;
            c.fillStyle = '#5a5a5a';
            c.textBaseline = 'middle';
            function tick(p, q, text, off, align) {
                path([p, q], '#555', 1);
                const s = px(p);
                c.textAlign = align;
                c.fillText(String(text), s[0] + off[0], s[1] + off[1]);
            }
            o.tTicks.forEach(v => tick(boxPoint(b, b.a0, b.c0, v), boxPoint(b, b.a0, b.c0 + dc, v), v, o.tOff, 'right'));
            o.aTicks.forEach(v => tick(boxPoint(b, v, b.c0, b.t0), boxPoint(b, v, b.c0 + dc, b.t0), v, o.aOff, 'right'));
            o.cTicks.forEach(v => tick(boxPoint(b, b.a1, v, b.t0), boxPoint(b, b.a1 - da, v, b.t0), v, o.cOff, 'left'));

            // axis names
            c.font = '12px ' + Chart.defaults.font.family;
            c.textAlign = 'center';
            o.names.forEach(n => {
                c.save();
                c.translate(n.x - o.canvasLeft, n.y - o.top);
                if (n.up) c.rotate(-Math.PI / 2);
                c.fillText(n.text, 0, 0);
                c.restore();
            });
            c.restore();
        }
    };
}

function boxChart(o) {
    const b = o.box, area = o.area;
    const backY = b.L[1] + b.R[1] - b.B[1] + b.h;
    const width = o.canvasWidth, height = o.canvasHeight;
    new Chart(addCanvas(o.canvasLeft, o.top, width, height), {
        type: 'scatter',
        data: { datasets: o.sets.map(s => scatterSet(s[0], s[1])) },
        plugins: [boxPlugin(o)],
        options: {
            responsive: false,
            animation: false,
            events: [],
            layout: { autoPadding: false, padding: { left: area.left - o.canvasLeft, right: o.canvasLeft + width - area.right, top: 0, bottom: o.top + height - area.bottom } },
            plugins: { legend: { display: false }, tooltip: { enabled: false }, title: titleOptions(o.title, o.titleY - o.top, area.top - o.top) },
            scales: {
                x: { type: 'linear', display: false, min: b.L[0], max: b.R[0] },
                y: { type: 'linear', display: false, min: b.B[1], max: backY }
            }
        }
    });
}

flatChart({
    title: 'Binucleate', titleY: 19, top: 0, canvasLeft: 0,
    area: { left: 52, right: 368, top: 36, bottom: 296.7 }, bottomSpace: 40,
    xTicks: binXTicks, yTicks: binYTicks, axisColour: '#555', axisWidth: 1, xTitleGap: 5,
    sets: [[binTeal, TEAL], [binRed, MAROON]]
});

boxChart({
    title: 'Celegans', titleY: 20.7, top: 0, canvasLeft: 420, canvasWidth: 390, canvasHeight: 340,
    area: { left: 470, right: 786.67, top: 34.67, bottom: 296 },
    box: { L: [-21.7, -10], B: [-2.65, -19.04], R: [21.7, -12.28], h: 20, a0: 12.2, a1: -10, c0: -10, c1: 12.6, t0: -10, t1: 10 },
    aTicks: celSegTicks, cTicks: celPriTicks, tTicks: celTerTicks,
    tOff: [-10, 0], aOff: [-10, 10.5], cOff: [7, 11.5],
    names: [{ text: 'Tercer VG', x: 433.3, y: 158, up: true }, { text: 'Segundo VG', x: 505, y: 306.7 }, { text: 'Primer VG', x: 712.7, y: 310.7 }],
    sets: [[celGray, GRAY], [celTeal, TEAL], [celGreen, DGREEN], [celRed, MAROON]]
});

boxChart({
    title: 'CHO', titleY: 19.3, top: 0, canvasLeft: 840, canvasWidth: 384, canvasHeight: 340,
    area: { left: 888.33, right: 1208.33, top: 37.4, bottom: 297.33 },
    box: { L: [-24, -11.36], B: [-2.93, -21.3], R: [24.5, -13.74], h: 21.87, a0: 20, a1: -20, c0: -40, c1: 40, t0: -11.36, t1: 10.51 },
    aTicks: choSegTicks, cTicks: choPriTicks, tTicks: choTerTicks,
    tOff: [-9, 0], aOff: [-8, 10.3], cOff: [5.5, 11],
    names: [{ text: 'Tercer VG', x: 851.7, y: 159, up: true }, { text: 'Segundo   VG', x: 920, y: 306.7 }, { text: 'Primer VG', x: 1131.7, y: 310.7 }],
    sets: [[choGray, GRAY], [choTeal, TEAL], [choGreen, DGREEN], [choRed, MAROON], [choMagenta, MAGENTA]]
});

boxChart({
    title: 'HeLa', titleY: 385, top: 360, canvasLeft: 0, canvasWidth: 400, canvasHeight: 334,
    area: { left: 51.67, right: 370, top: 398.7, bottom: 661.8 },
    box: { L: [-21.25, -10], B: [-0.67, -18], R: [21.48, -10.69], h: 20, a0: 10, a1: -20, c0: 10, c1: -5, t0: -10, t1: 10 },
    aTicks: helPriTicks, cTicks: helSegTicks, tTicks: helTerTicks,
    tOff: [-8, 0], aOff: [-9, 10.3], cOff: [7, 10],
    names: [{ text: 'Tercer VG', x: 15.7, y: 528.3, up: true }, { text: 'Primer VG', x: 105, y: 672.3 }, { text: 'Segundo VG', x: 308.3, y: 673.3 }],
    sets: [[helMaroon, MAROON], [helMagenta, MAGENTA], [helTeal, TEAL], [helLime, LIME], [helOrange, ORANGE], [helGray, GRAY], [helRed, RED], [helBlue, BLUE], [helGreen, DGREEN], [helBlack, BLACK]]
});

boxChart({
    title: 'Liver aging', titleY: 384, top: 360, canvasLeft: 420, canvasWidth: 390, canvasHeight: 334,
    area: { left: 470, right: 786.67, top: 399, bottom: 661.7 },
    box: { L: [-17.14, -6.03], B: [-10, -6.92], R: [10, -6.59], h: 12, a0: 6.4, a1: -4.75, c0: -10, c1: 10, t0: -6, t1: 6 },
    aTicks: livSegTicks, cTicks: livPriTicks, tTicks: livTerTicks,
    tOff: [-10, 0], aOff: [-1, 18.5], cOff: [0.5, 18], leftDash: [14, 22], rightDash: [3, 4],
    names: [{ text: 'Tercer VG', x: 439, y: 524, up: true }, { text: 'Segundo VG', x: 470.7, y: 684 }, { text: 'Primer VG', x: 673.3, y: 686.7 }],
    sets: [[livTeal, TEAL], [livGray, GRAY], [livRed, MAROON], [livGreen, DGREEN]]
});

flatChart({
    title: 'Lymphoma', titleY: 384, top: 360, canvasLeft: 850,
    area: { left: 888.33, right: 1205, top: 400, bottom: 660.7 }, bottomSpace: 33,
    xTicks: lymXTicks, yTicks: lymYTicks, axisColour: '#808080', axisWidth: 1.5, xTitleGap: 0, yTitle: 'Segundo VG',
    sets: [[lymTeal, TEAL], [lymGreen, DGREEN], [lymRed, MAROON]]
});
</script>
</body>
</html>
